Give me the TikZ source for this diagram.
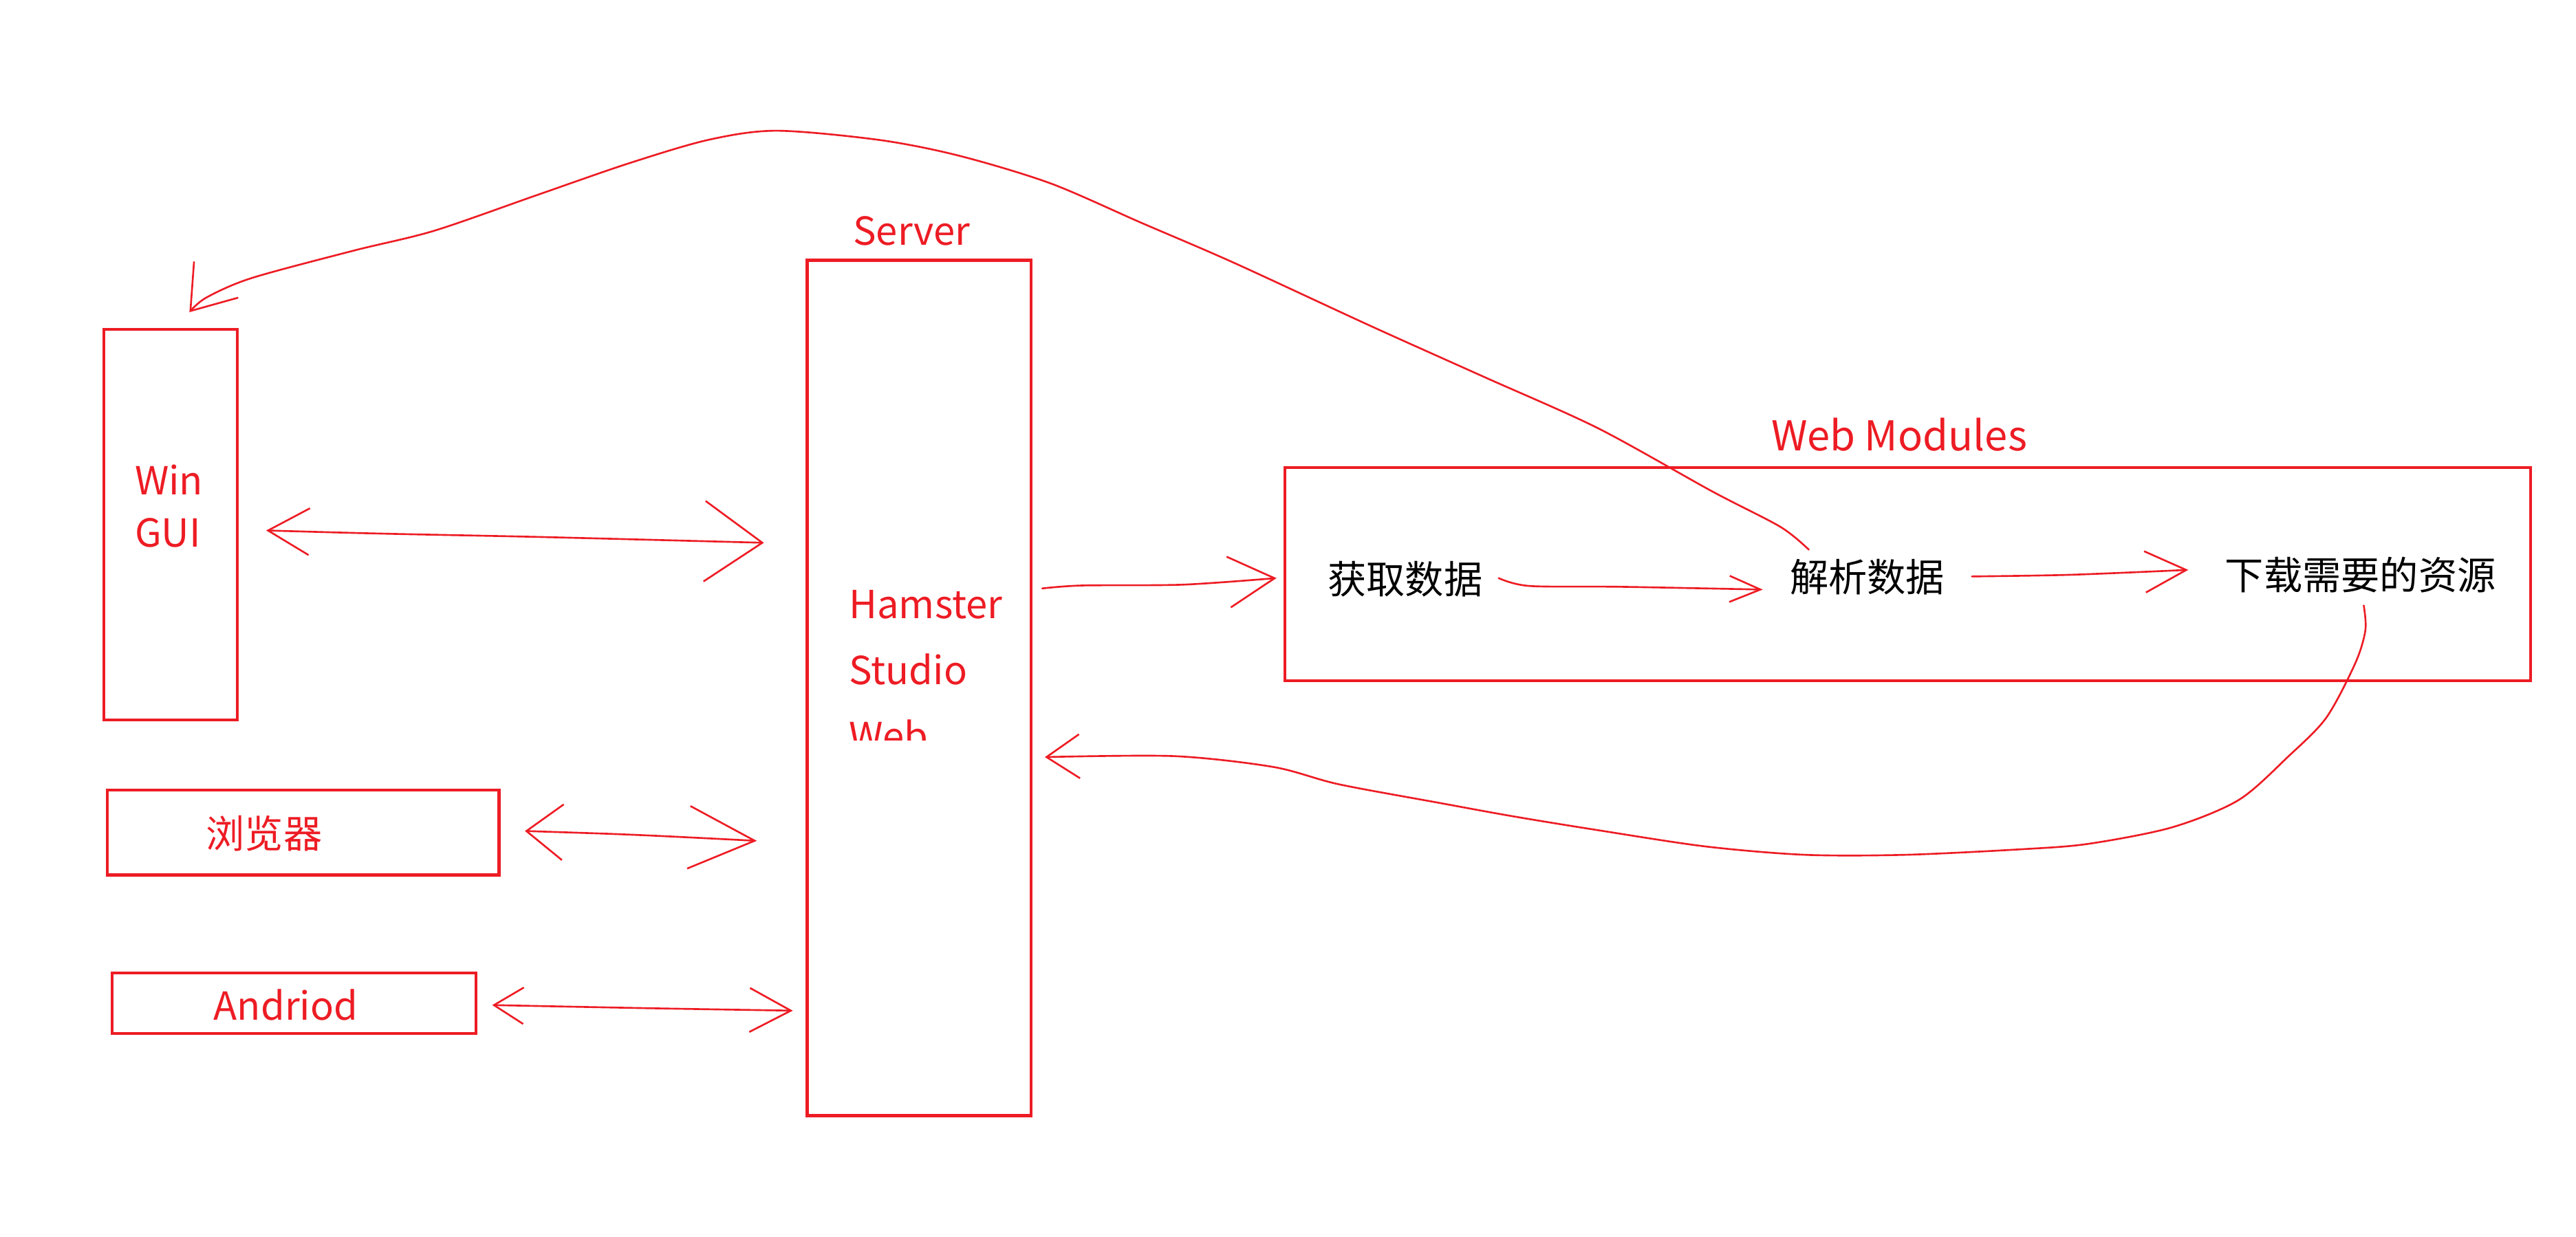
\documentclass[tikz,border=0pt]{standalone}
\usepackage{fontspec}
\setmainfont{Noto Sans CJK SC}
\usetikzlibrary{arrows.meta,fit}
\definecolor{paintred}{RGB}{237,28,36}
\tikzset{
  box/.style={draw=paintred,line width=1.2pt,inner sep=0pt},
  pen/.style={draw=paintred,line width=0.75pt,line cap=round,line join=round},
  redtext/.style={text=paintred,inner sep=0pt,font=\fontsize{16}{19}\selectfont},
  blacktext/.style={text=black,inner sep=0pt,font=\fontsize{16}{19}\selectfont}
}
\begin{document}
\begin{tikzpicture}[x=0.02388cm,y=-0.02388cm]
\useasboundingbox (0,0) rectangle (1568,753);

\node[box,fit={(63.2,200.5) (144.4,438.3)}] (gui) {};
\node[box,fit={(65.3,481) (303.8,532.8)}] (browser) {};
\node[box,fit={(68.4,592.5) (289.6,629.3)}] (android) {};
\node[box,fit={(491.3,158.5) (627.5,679.3)}] (server) {};
\node[box,fit={(782.2,284.7) (1540.3,414.4)}] (webmod) {};

\node[redtext,anchor=base west] (win) at (81.8,301.2) {Win};
\node[redtext,anchor=base west] (guilbl) at (81.8,333.1) {GUI};
\node[redtext] (browserlbl) at (160.8,507.6) {浏览器};
\node[redtext,anchor=base] (androidlbl) at (174,621.3) {Andriod};
\node[redtext,anchor=base] (serverlbl) at (555,149.4) {Server};
\begin{scope}
\clip (495,340) rectangle (622,450.7);
\node[redtext,anchor=base west] (hamster) at (516.5,376.4) {Hamster};
\node[redtext,anchor=base west] (studio) at (516.5,416.6) {Studio};
\node[redtext,anchor=base west] (web) at (516.5,456.8) {Web};
\end{scope}
\node[redtext,anchor=base,font=\fontsize{17}{20}\selectfont] (webmodlbl) at (1156,274.3) {Web Modules};
\node[blacktext] (fetch) at (855.3,352.8) {获取数据};
\node[blacktext] (parse) at (1136.6,351.2) {解析数据};
\node[blacktext] (download) at (1436.8,350.2) {下载需要的资源};

\coordinate (guiR) at (162,323);
\coordinate (srvA) at (465,330.5);
\coordinate (browserR) at (319.5,506);
\coordinate (srvB) at (460.7,512);
\coordinate (androidR) at (299.6,612);
\coordinate (srvC) at (482.6,615.4);
\coordinate (srvOut) at (634.4,358.3);
\coordinate (webIn) at (777,352);
\coordinate (fetchR) at (912.2,352);
\coordinate (parseL) at (1073,359);
\coordinate (parseR) at (1200.3,351);
\coordinate (downloadL) at (1332,347);
\coordinate (downloadB) at (1438.8,368.7);
\coordinate (srvIn) at (636,461);
\coordinate (parseT) at (1101,334.7);
\coordinate (guiT) at (115.3,190.1);

\draw[pen,{Straight Barb[length=6mm,width=6.8mm]}-{Straight Barb[length=8.4mm,width=11.7mm]}]
plot[smooth] coordinates {(guiR) (236,325) (330,327) (srvA)};
\draw[pen,{Straight Barb[length=5.3mm,width=8.1mm]}-{Straight Barb[length=9.6mm,width=9.1mm]}]
plot[smooth] coordinates {(browserR) (390,508.5) (srvB)};
\draw[pen,{Straight Barb[length=4.3mm,width=5.3mm]}-{Straight Barb[length=6mm,width=6.4mm]}]
plot[smooth] coordinates {(androidR) (400,614) (srvC)};
\draw[pen,-{Straight Barb[length=6.7mm,width=7.4mm]}]
plot[smooth] coordinates {(srvOut) (659,356.5) (720,356) (webIn)};
\draw[pen,-{Straight Barb[length=4.5mm,width=3.8mm]}]
plot[smooth] coordinates {(fetchR) (931,356.8) (986.5,357.3) (parseL)};
\draw[pen,-{Straight Barb[length=6mm,width=6mm]}]
plot[smooth] coordinates {(parseR) (1260,350) (downloadL)};
\draw[pen,-{Straight Barb[length=4.8mm,width=6.4mm]}]
plot[smooth] coordinates {(downloadB) (1439.8,383.7) (1433.7,403.7) (1416,437) (1393.1,460.4) (1362.7,487.1) (1322,503.8) (1271.3,513.8) (1230.8,517.1) (1159.7,520.5) (1098.8,520.5) (1038,515.4) (972,505.4) (921.2,497.1) (875.6,488.8) (814.7,477.5) (775,467) (714.5,460.4) (srvIn)};
\draw[pen,-{Straight Barb[length=5.9mm,width=8.3mm]}]
plot[smooth] coordinates {(parseT) (1083.7,320.8) (1042,299.1) (972.6,260.7) (903.1,229.4) (833.7,198.2) (750.4,159.7) (694.8,135.7) (639.3,111.6) (583.7,94.8) (535.1,85.2) (472.6,79.6) (431,85.2) (382.3,99.6) (326.8,118.8) (264.3,140.5) (215.7,152.5) (153.2,169.3) (125.4,181.3) (guiT)};
\end{tikzpicture}
\end{document}
